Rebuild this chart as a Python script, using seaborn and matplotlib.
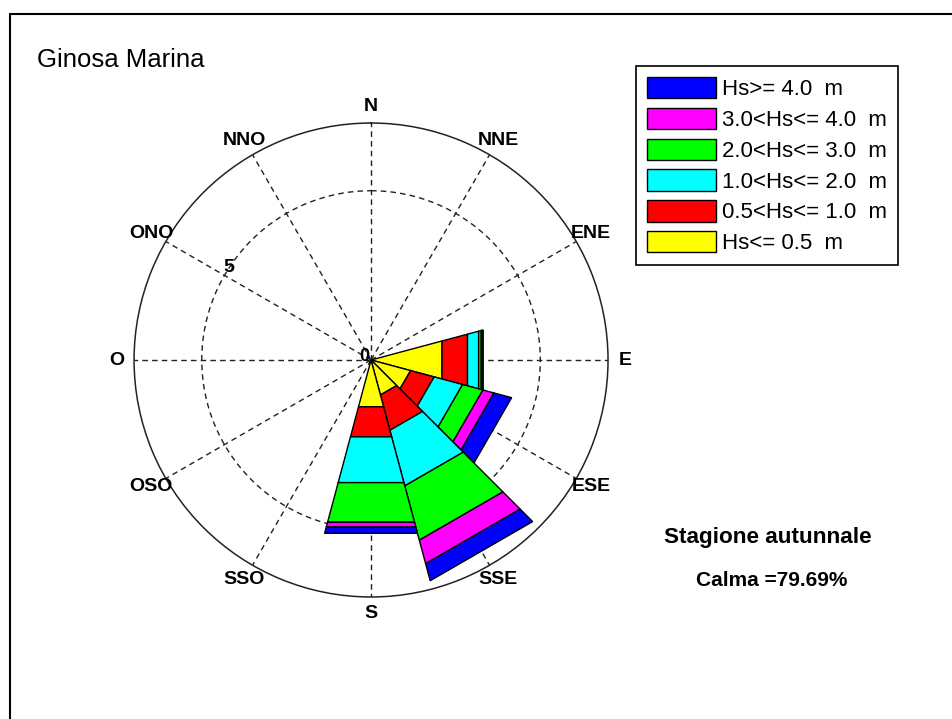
import numpy as np
import seaborn as sns
import matplotlib
matplotlib.use('Agg')
import matplotlib.pyplot as plt
from matplotlib.patches import Patch
from matplotlib.lines import Line2D

# wave rose data (% of occurrence), sectors 30 deg wide, centred on bearing
dir_deg = [90, 120, 150, 180]
hs_05 = [2.17, 1.21, 1.07, 1.43]    # Hs<=0.5
hs_10 = [0.78, 0.72, 1.08, 0.92]    # 0.5<Hs<=1.0
hs_20 = [0.34, 0.87, 1.70, 1.40]    # 1.0<Hs<=2.0
hs_30 = [0.08, 0.62, 1.66, 1.21]    # 2.0<Hs<=3.0
hs_40 = [0.03, 0.34, 0.72, 0.15]    # 3.0<Hs<=4.0
hs_over = [0.03, 0.54, 0.52, 0.19]  # Hs>=4.0

classes = [hs_05, hs_10, hs_20, hs_30, hs_40, hs_over]
class_labels = ['Hs<= 0.5  m', '0.5<Hs<= 1.0  m', '1.0<Hs<= 2.0  m',
                '2.0<Hs<= 3.0  m', '3.0<Hs<= 4.0  m', 'Hs>= 4.0  m']
class_colors = ['#ffff00', '#ff0000', '#00ffff', '#00ff00', '#ff00ff', '#0000ff']

compass = ['N', 'NNE', 'ENE', 'E', 'ESE', 'SSE', 'S', 'SSO', 'OSO', 'O', 'ONO', 'NNO']
compass_deg = np.arange(0, 360, 30)

sns.set_style('white')
plt.rcParams['font.family'] = ['Liberation Sans', 'DejaVu Sans']
plt.rcParams['text.color'] = 'black'

fig = plt.figure(figsize=(9.52, 7.19), dpi=100)
ax = fig.add_axes([0.1408, 0.1697, 0.4979, 0.6592], projection='polar')
ax.set_theta_zero_location('N')
ax.set_theta_direction(-1)
ax.set_ylim(0, 7)
ax.set_thetagrids(compass_deg, labels=[''] * len(compass_deg))
ax.set_rgrids([5], labels=[''])
ax.grid(True, color='#222222', linestyle=(0, (4, 3)), lw=1.0)
ax.set_axisbelow(True)
ax.spines['polar'].set_color('#222222')
ax.spines['polar'].set_linewidth(1.1)
ax.set_facecolor('white')

# stacked sectors with straight outer edges
for i, d in enumerate(dir_deg):
    th1, th2 = np.deg2rad(d - 15), np.deg2rad(d + 15)
    r0 = 0.0
    for vals, col in zip(classes, class_colors):
        r1 = r0 + vals[i]
        ax.fill([th1, th1, th2, th2], [r0, r1, r1, r0], facecolor=col,
                edgecolor='k', lw=1.0, zorder=2)
        r0 = r1

for lab, d in zip(compass, compass_deg):
    ax.text(np.deg2rad(d), 7.5, lab, ha='center', va='center',
            fontsize=14, fontweight='bold', clip_on=False)
ax.text(np.deg2rad(303), 5.0, '5', ha='center', va='center', fontsize=14,
        fontweight='bold')
ax.text(np.deg2rad(300), 0.22, '0', ha='center', va='center', fontsize=13,
        fontweight='bold', zorder=3)

handles = [Patch(facecolor=c, edgecolor='k', lw=1, label=l)
           for c, l in zip(class_colors[::-1], class_labels[::-1])]
leg = fig.legend(handles=handles, loc='upper left',
                 bbox_to_anchor=(636 / 952, 1 - 66 / 719), fontsize=16,
                 handlelength=3.1, handleheight=1.1, labelspacing=0.34,
                 handletextpad=0.25, borderpad=0.5, borderaxespad=0,
                 fancybox=False, framealpha=1, edgecolor='k')
leg.get_frame().set_linewidth(1.2)

fig.text(37 / 952, 1 - 60 / 719, 'Ginosa Marina', fontsize=18.5, va='center')
fig.text(768 / 952, 1 - 537 / 719, 'Stagione autunnale', fontsize=16.2,
         fontweight='bold', ha='center', va='center')
fig.text(772 / 952, 1 - 580 / 719, 'Calma =79.69%', fontsize=15,
         fontweight='bold', ha='center', va='center')

# frame of the original window
fig.add_artist(Line2D([10 / 952, 10 / 952], [0, 1 - 14 / 719],
                      transform=fig.transFigure, color='k', lw=1.5))
fig.add_artist(Line2D([10 / 952, 1], [1 - 14 / 719, 1 - 14 / 719],
                      transform=fig.transFigure, color='k', lw=1.5))

fig.savefig('out.png', dpi=100, facecolor='white')
